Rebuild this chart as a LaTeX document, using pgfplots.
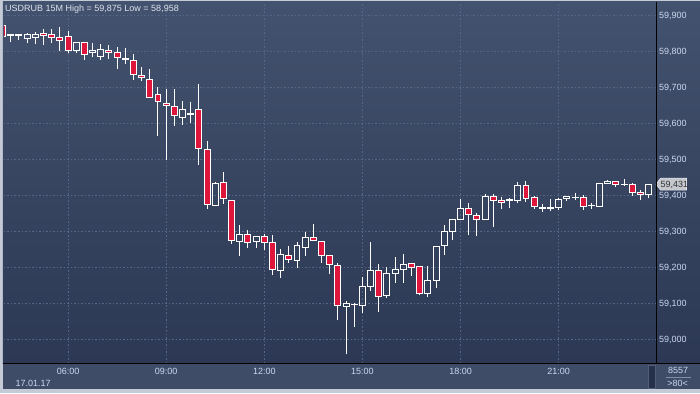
\documentclass[border=0pt]{standalone}
\usepackage{pgfplots}
\pgfplotsset{compat=1.18}
\usepackage{pgfplotstable}
\usetikzlibrary{backgrounds}
\usepackage{fontspec}
\setmainfont{Liberation Sans}
\definecolor{bgtop}{RGB}{67,82,110}
\definecolor{bgbot}{RGB}{44,56,84}
\definecolor{strip}{RGB}{62,76,104}
\definecolor{framec}{RGB}{196,203,214}
\definecolor{gridc}{RGB}{86,102,134}
\definecolor{candred}{RGB}{222,22,60}
\definecolor{lbl}{RGB}{204,216,238}
\definecolor{ttl}{RGB}{222,228,238}
\definecolor{pricebg}{RGB}{196,200,206}
\definecolor{pricebd}{RGB}{226,228,232}
\definecolor{sliderc}{RGB}{38,48,72}
\definecolor{sliderb}{RGB}{80,94,122}
\definecolor{sepc}{RGB}{130,142,164}

\pgfplotstableread{
i O H L C
0 59871 59875 59843 59843
1 59844 59850 59827 59846
2 59845 59850 59832 59846
3 59837 59852 59823 59847
4 59840 59855 59820 59847
5 59849 59862 59818 59844
6 59847 59862 59823 59840
7 59840 59869 59802 59831
8 59841 59857 59795 59802
9 59804 59824 59797 59824
10 59826 59826 59776 59792
11 59797 59825 59784 59803
12 59785 59821 59776 59806
13 59804 59817 59780 59798
14 59797 59813 59752 59784
15 59778 59809 59765 59781
16 59775 59792 59721 59735
17 59734 59758 59718 59728
18 59723 59750 59672 59672
19 59681 59702 59566 59660
20 59656 59697 59499 59649
21 59647 59696 59594 59621
22 59617 59662 59595 59639
23 59626 59659 59600 59628
24 59639 59709 59484 59531
25 59528 59551 59363 59374
26 59371 59438 59371 59433
27 59436 59465 59376 59391
28 59386 59386 59265 59275
29 59271 59317 59231 59292
30 59292 59303 59254 59268
31 59271 59286 59254 59286
32 59286 59292 59248 59268
33 59269 59290 59178 59193
34 59190 59251 59171 59236
35 59233 59259 59212 59221
36 59219 59269 59199 59261
37 59254 59297 59232 59283
38 59283 59320 59272 59275
39 59272 59272 59212 59233
40 59233 59233 59182 59208
41 59205 59212 59054 59093
42 59091 59105 58958 59100
43 59096 59100 59034 59097
44 59093 59173 59073 59147
45 59146 59270 59135 59191
46 59191 59208 59076 59119
47 59121 59200 59115 59183
48 59183 59228 59157 59194
49 59194 59237 59157 59208
50 59211 59211 59175 59200
51 59202 59202 59125 59126
52 59126 59202 59118 59164
53 59164 59258 59141 59258
54 59261 59317 59235 59300
55 59300 59333 59275 59333
56 59333 59389 59333 59364
57 59364 59378 59289 59347
58 59343 59350 59286 59333
59 59332 59403 59332 59398
60 59398 59403 59313 59385
61 59386 59396 59361 59379
62 59385 59392 59366 59387
63 59385 59437 59379 59426
64 59428 59440 59382 59392
65 59395 59398 59362 59369
66 59363 59375 59354 59365
67 59364 59389 59356 59366
68 59366 59393 59359 59389
69 59391 59396 59385 59396
70 59393 59406 59387 59394
71 59394 59401 59360 59369
72 59372 59378 59363 59373
73 59368 59433 59368 59433
74 59433 59443 59433 59438
75 59439 59439 59424 59431
76 59429 59445 59428 59430
77 59430 59433 59399 59408
78 59408 59415 59388 59403
79 59403 59431 59392 59431
}\candles

\begin{document}
\begin{tikzpicture}[font=\fontsize{9}{10}\selectfont]
\begin{axis}[
  width=652pt, height=360pt, scale only axis,
  xmin=0.17, xmax=79.9, ymin=58933.5, ymax=59935,
  enlargelimits=false, clip mode=individual,
  axis line style={draw=none},
  major tick length=0pt,
  grid=major,
  major grid style={gridc, dash pattern=on 1.5pt off 2pt, line width=0.6pt},
  xtick={8,20,32,44,56,68},
  xticklabels={06:00,09:00,12:00,15:00,18:00,21:00},
  ytick={59000,59100,59200,59300,59400,59500,59600,59700,59800,59900},
  yticklabel pos=right,
  scaled y ticks=false,
  /pgf/number format/1000 sep={,},
  /pgf/number format/assume math mode=true,
  tick label style={font=\fontsize{9}{10}\selectfont, text=lbl},
  xticklabel style={anchor=base, inner sep=0pt, yshift=-11pt},
  yticklabel style={anchor=base west, inner sep=0pt, xshift=3pt, yshift=-3.2pt},
]
\coordinate (O) at (rel axis cs:0,0);
\pgfplotsforeachungrouped \k in {0,...,79}{%
  \pgfplotstablegetelem{\k}{O}\of\candles \let\vO\pgfplotsretval
  \pgfplotstablegetelem{\k}{H}\of\candles \let\vH\pgfplotsretval
  \pgfplotstablegetelem{\k}{L}\of\candles \let\vL\pgfplotsretval
  \pgfplotstablegetelem{\k}{C}\of\candles \let\vC\pgfplotsretval
  \ifnum\vC<\vO\relax
    \let\vlo\vC \let\vhi\vO \def\fc{candred}%
  \else
    \let\vlo\vO \let\vhi\vC \def\fc{none}%
  \fi
  \pgfmathsetmacro\xa{\k-0.365}%
  \pgfmathsetmacro\xb{\k+0.365}%
  \edef\doplot{%
    \noexpand\addplot[draw=white, line width=1pt, mark=none] coordinates {(\k,\vL) (\k,\vlo)};%
    \noexpand\addplot[draw=white, line width=1pt, mark=none] coordinates {(\k,\vhi) (\k,\vH)};%
    \noexpand\addplot[draw=white, fill=\fc, line width=1pt, mark=none] coordinates {(\xa,\vlo) (\xb,\vlo) (\xb,\vhi) (\xa,\vhi)} -- cycle;%
  }%
  \doplot
}
\draw[fill=pricebg, draw=pricebd, line width=0.6pt] (axis cs:79.9,59431) -- ++(4.5pt,6pt) -- ++(26pt,0pt) -- ++(0pt,-12pt) -- ++(-26pt,0pt) -- cycle;
\node[anchor=base west, inner sep=0pt, text=black!80, xshift=4.5pt, yshift=-3.2pt] at (axis cs:79.9,59431) {59,431};
\end{axis}
\pgfresetboundingbox
\begin{scope}[shift={(O)}, x=1pt, y=1pt]
\begin{scope}[shift={(-4,-30)}]
\path[use as bounding box] (0,0) rectangle (700,393);
\begin{scope}[on background layer]
\fill[framec] (0,0) rectangle (700,393);
\shade[top color=bgtop, bottom color=bgbot] (3,30) rectangle (700,391);
\fill[strip] (3,4) rectangle (700,30);
\end{scope}
\draw[black, line width=1pt] (3,30) -- (700,30);
\draw[black, line width=1pt] (656.5,30) -- (656.5,391);
\node[anchor=base west, inner sep=0pt, text=ttl] at (5,381.3) {USDRUB 15M High = 59,875 Low = 58,958};
\node[anchor=base west, inner sep=0pt, text=lbl] at (15.5,6.5) {17.01.17};
\fill[sliderc] (648.5,5) rectangle (655,28);
\draw[sliderb, line width=0.5pt] (648.5,5) rectangle (655,28);
\node[anchor=base, inner sep=0pt, text=lbl] at (678,19.8) {8557};
\draw[sepc, line width=0.7pt] (666,16) -- (691,16);
\node[anchor=base, inner sep=0pt, text=lbl] at (677.5,7) {>80<};
\end{scope}
\end{scope}
\end{tikzpicture}
\end{document}
